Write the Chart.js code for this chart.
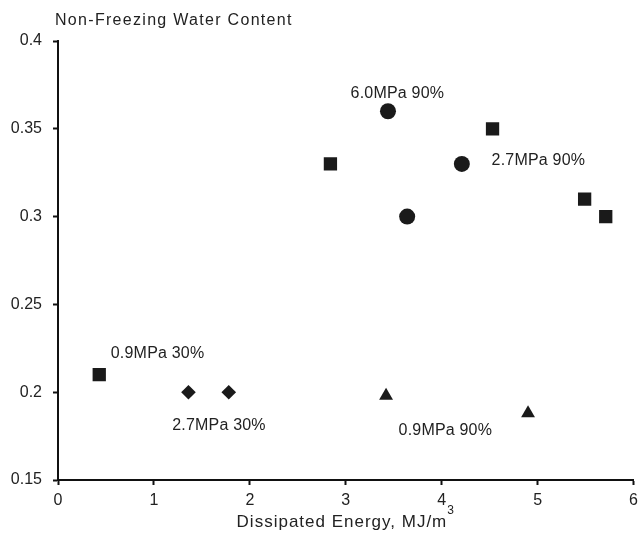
<!DOCTYPE html>
<html>
<head>
<meta charset="utf-8">
<script src="https://cdn.jsdelivr.net/npm/chart.js@4.4.0/dist/chart.umd.min.js"></script>
<style>
  body { margin: 0; background: #fff; }
  #chart { display: block; }
</style>
</head>
<body>
<canvas id="chart" width="644" height="540"></canvas>
<script>
// Data
const squareX = [0.43, 2.84, 4.53, 5.49, 5.71];
const squareY = [0.21, 0.33, 0.35, 0.31, 0.30];
const circleX = [3.44, 3.64, 4.21];
const circleY = [0.36, 0.30, 0.33];
const diamondX = [1.36, 1.78];
const diamondY = [0.20, 0.20];
const triangleX = [3.42, 4.90];
const triangleY = [0.198, 0.188];

const xTicks = [0, 1, 2, 3, 4, 5, 6];
const yTicks = [0.15, 0.2, 0.25, 0.3, 0.35, 0.4];

// annotation labels (left edge x, centre y in data units)
const noteText = ['6.0MPa 90%', '2.7MPa 90%', '0.9MPa 30%', '2.7MPa 30%', '0.9MPa 90%'];
const noteX = [3.05, 4.52, 0.55, 1.19, 3.55];
const noteY = [0.370, 0.332, 0.222, 0.181, 0.178];

const titleText = 'Non-Freezing Water Content';
const xTitle = 'Dissipated Energy, MJ/m';
const xTitleSup = '3';

const ink = '#1a1a1a';
const fontFamily = '"Liberation Sans", Arial, sans-serif';

function toPoints(xs, ys) {
  return xs.map((x, i) => ({ x: x, y: ys[i] }));
}

function series(label, xs, ys, style, radius) {
  return {
    label: label,
    data: toPoints(xs, ys),
    pointStyle: style,
    pointRadius: radius,
    pointHoverRadius: radius,
    backgroundColor: ink,
    borderColor: ink,
    borderWidth: 0,
    showLine: false
  };
}

const notesPlugin = {
  id: 'notes',
  afterDraw(chart) {
    const ctx = chart.ctx;
    const xs = chart.scales.x;
    const ys = chart.scales.y;
    const area = chart.chartArea;
    ctx.save();
    ctx.fillStyle = '#222';
    ctx.textBaseline = 'middle';
    ctx.textAlign = 'left';
    ctx.font = '16px ' + fontFamily;
    ctx.letterSpacing = '0.2px';
    noteText.forEach((t, i) => {
      ctx.fillText(t, xs.getPixelForValue(noteX[i]), ys.getPixelForValue(noteY[i]));
    });

    // chart title, top left
    ctx.letterSpacing = '1.3px';
    ctx.fillText(titleText, area.left - 3, 21);

    // x axis title with superscript
    ctx.font = '17px ' + fontFamily;
    ctx.letterSpacing = '1px';
    const mainW = ctx.measureText(xTitle).width;
    ctx.font = '12px ' + fontFamily;
    const supW = ctx.measureText(xTitleSup).width;
    const startX = (area.left + area.right) / 2 - (mainW + supW) / 2;
    ctx.font = '17px ' + fontFamily;
    ctx.fillText(xTitle, startX, 522);
    ctx.font = '12px ' + fontFamily;
    ctx.fillText(xTitleSup, startX + mainW, 511);
    ctx.restore();
  }
};

const ctx = document.getElementById('chart').getContext('2d');
new Chart(ctx, {
  type: 'scatter',
  data: {
    datasets: [
      series('squares', squareX, squareY, 'rect', 9.4),
      series('circles', circleX, circleY, 'circle', 8),
      series('diamonds', diamondX, diamondY, 'rectRot', 7.3),
      series('triangles', triangleX, triangleY, 'triangle', 8)
    ]
  },
  options: {
    responsive: false,
    animation: false,
    layout: {
      autoPadding: false, // the last x label is allowed to hang off the edge
      padding: { left: 0, top: 41, right: -1, bottom: 0 }
    },
    plugins: {
      legend: { display: false },
      tooltip: { enabled: false }
    },
    scales: {
      x: {
        type: 'linear',
        min: 0,
        max: 6,
        afterFit: function (scale) { scale.height = 60; },
        afterBuildTicks: function (scale) {
          scale.ticks = xTicks.map(v => ({ value: v }));
        },
        border: { display: true, color: '#111', width: 2 },
        grid: { drawOnChartArea: false, drawTicks: true, tickLength: 5, tickWidth: 2, tickColor: '#111' },
        ticks: { color: '#222', padding: 6, font: { family: fontFamily, size: 16 } }
      },
      y: {
        type: 'linear',
        min: 0.15,
        max: 0.4,
        afterFit: function (scale) { scale.width = 58; },
        afterBuildTicks: function (scale) {
          scale.ticks = yTicks.map(v => ({ value: v }));
        },
        border: { display: true, color: '#111', width: 2 },
        grid: { drawOnChartArea: false, drawTicks: true, tickLength: 5, tickWidth: 2, tickColor: '#111' },
        ticks: {
          color: '#222',
          padding: 11,
          font: { family: fontFamily, size: 16 },
          callback: function (value) { return String(+value.toFixed(2)); }
        }
      }
    }
  },
  plugins: [notesPlugin]
});
</script>
</body>
</html>
